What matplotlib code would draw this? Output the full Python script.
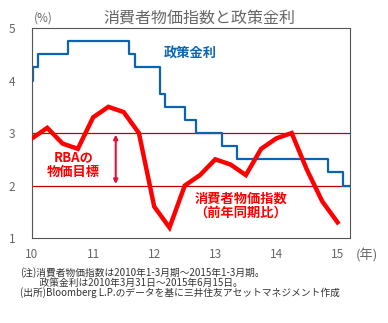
import datetime as dt
import matplotlib
matplotlib.use("Agg")
import matplotlib.pyplot as plt

plt.rcParams['font.family'] = ['Noto Sans CJK JP', 'DejaVu Sans']

# CPI (YoY %), quarterly 2010 Q1 - 2015 Q1
cpi = [2.9, 3.1, 2.8, 2.7, 3.3, 3.5, 3.4, 3.0, 1.6, 1.2, 2.0, 2.2,
       2.5, 2.4, 2.2, 2.7, 2.9, 3.0, 2.3, 1.7, 1.3]

# RBA cash rate, change dates and levels
rate_dates = ["2010-03-31", "2010-04-07", "2010-05-05", "2010-11-03",
              "2011-11-02", "2011-12-07", "2012-05-02", "2012-06-06",
              "2012-10-03", "2012-12-05", "2013-05-08", "2013-08-07",
              "2015-02-04", "2015-05-06", "2015-06-15"]
rate_vals = [4.0, 4.25, 4.5, 4.75, 4.5, 4.25, 3.75, 3.5, 3.25, 3.0,
             2.75, 2.5, 2.25, 2.0, 2.0]

year_ticks = [10, 11, 12, 13, 14, 15]
year_labels = ["10", "11", "12", "13", "14", "15"]
y_ticks = [1, 2, 3, 4, 5]

notes = [
    "(注)消費者物価指数は2010年1-3月期～2015年1-3月期。",
    "　　政策金利は2010年3月31日～2015年6月15日。",
    "(出所)Bloomberg L.P.のデータを基に三井住友アセットマネジメント作成",
]

# convert to fractional year axis (2010-03-31 -> 10)
base = dt.date(2010, 3, 31)
rate_x = [10 + (dt.date.fromisoformat(d) - base).days / 365.25 for d in rate_dates]
cpi_x = [10 + i / 4 for i in range(len(cpi))]

fig = plt.figure(figsize=(3.88, 3.23), dpi=100)
ax = fig.add_axes([0.0825, 0.263, 0.82, 0.65])

gray = "#666666"
red = "#ff0000"
blue = "#0a64b4"

ax.axhline(3, color="#c00000", lw=0.9, zorder=1)
ax.axhline(2, color="#c00000", lw=0.9, zorder=1)
ax.step(rate_x, rate_vals, where="post", color=blue, lw=1.6, zorder=2)
ax.plot(cpi_x, cpi, color=red, lw=3.2, solid_joinstyle="miter", zorder=3)

ax.set_xlim(10, rate_x[-1])
ax.set_ylim(1, 5)
ax.set_xticks(year_ticks)
ax.set_xticklabels(year_labels)
ax.set_yticks(y_ticks)
ax.tick_params(length=0, colors=gray, labelsize=8.5, pad=7)
ax.tick_params(axis="y", pad=12)
for s in ax.spines.values():
    s.set_color("#555555")
    s.set_linewidth(0.8)

ax.annotate("", xy=(11.37, 2.97), xytext=(11.37, 2.03),
            arrowprops=dict(arrowstyle="<|-|>", color="#e0103a", lw=1.5,
                            mutation_scale=6, shrinkA=0, shrinkB=0))
ax.text(10.68, 2.4, "RBAの\n物価目標", color=red, fontsize=9.5, fontweight="bold",
        ha="center", va="center", linespacing=1.0)
ax.text(12.15, 4.51, "政策金利", color=blue, fontsize=9.5, fontweight="bold",
        ha="left", va="center")
ax.text(12.66, 1.61, "消費者物価指数\n（前年同期比）", color=red, fontsize=9.5,
        fontweight="bold", ha="left", va="center", linespacing=1.0)

fig.text(0.088, 0.945, "(%)", color=gray, fontsize=8.5, ha="left", va="center")
fig.text(0.515, 0.945, "消費者物価指数と政策金利", color=gray, fontsize=11.5,
         ha="center", va="center")
fig.text(0.975, 0.21, "(年)", color=gray, fontsize=9.5, ha="right", va="center")

ys = [0.155, 0.124, 0.093]
for t, y in zip(notes, ys):
    fig.text(0.052, y, t, color="#333333", fontsize=7, ha="left", va="center")

fig.savefig("out.png", dpi=100)
